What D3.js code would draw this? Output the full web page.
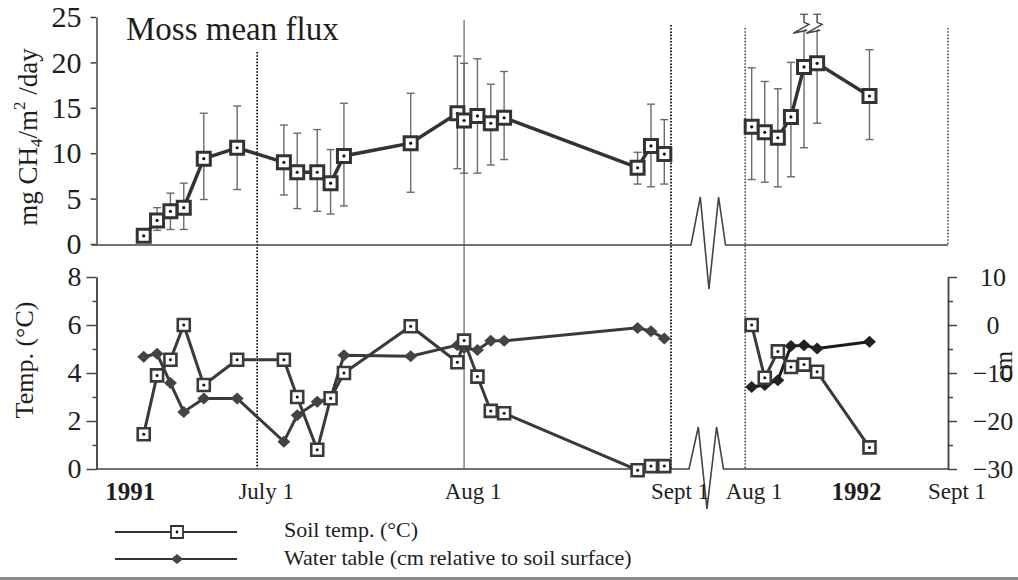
<!DOCTYPE html>
<html><head><meta charset="utf-8">
<script src="https://cdn.jsdelivr.net/npm/d3@7"></script>
<style>
body{margin:0;background:#fff;}
svg{display:block;}
text{font-family:"Liberation Serif","Times New Roman",serif;fill:#1e1e1e;}
</style></head><body>
<svg id="c" width="1018" height="580"></svg>
<script>
// ---- data ----
const sampleDates = ["1991-06-14","1991-06-16","1991-06-18","1991-06-20","1991-06-23","1991-06-28",
  "1991-07-05","1991-07-07","1991-07-10","1991-07-12","1991-07-14","1991-07-24","1991-07-31",
  "1991-08-01","1991-08-03","1991-08-05","1991-08-07","1991-08-27","1991-08-29","1991-08-31",
  "1992-08-02","1992-08-04","1992-08-06","1992-08-08","1992-08-10","1992-08-12","1992-08-20"];
const mossFlux   = [0.9,2.6,3.6,4.0,9.4,10.6,9.0,7.9,7.9,6.7,9.7,11.1,14.4,13.6,14.1,13.3,13.9,8.4,10.8,9.9,
                    12.9,12.3,11.7,14.0,19.5,19.9,16.3];
const fluxLow    = [null,1.5,1.6,1.6,4.9,6.0,5.4,3.9,3.6,3.3,4.2,5.7,8.3,7.8,7.8,8.7,9.3,6.6,6.3,6.6,
                    7.1,6.8,6.3,7.4,10.6,13.3,11.5];
const fluxHigh   = [null,4.0,5.6,6.7,14.4,15.2,13.1,12.2,12.6,10.4,15.5,16.6,20.7,19.9,20.4,17.6,19.0,10.1,15.4,13.7,
                    19.4,17.9,17.1,20.0,27,27,21.4];
const soilTemp   = [1.45,3.9,4.55,6.0,3.5,4.55,4.55,3.0,0.8,2.95,4.0,5.95,4.45,5.35,3.85,2.42,2.32,-0.05,0.12,0.12,
                    6.0,3.8,4.9,4.25,4.35,4.05,0.9];
const waterTable = [-6.6,-6.0,-12.1,-18.1,-15.3,-15.3,-24.3,-18.8,-16.0,-15.3,-6.3,-6.5,-4.2,-4.8,-5.2,-3.3,-3.3,-0.6,-1.3,-2.8,
                    -12.9,-12.5,-11.5,-4.4,-4.2,-4.9,-3.5];
const fluxTicks  = [0,5,10,15,20,25];
const tempTicks  = [0,2,4,6,8];
const tempMinor  = [1,3,5,7];
const waterTicks = [-30,-20,-10,0,10];
const waterMinor = [-25,-15,-5,5];
const monthTickDates  = ["1991-07-01","1991-08-01","1991-09-01","1992-08-01","1992-09-01"];
const monthTickLabels = ["July 1","Aug 1","Sept 1","Aug 1","Sept 1"];
const yearLabelDates  = ["1991-06-12","1992-08-18"];
const yearLabels      = ["1991","1992"];

// ---- scales ----
const parse = d3.timeParse("%Y-%m-%d");
const x91 = d3.scaleTime().domain([parse("1991-06-07"), parse("1991-09-04")]).range([97, 691]);
const x92 = d3.scaleTime().domain([parse("1992-07-29"), parse("1992-09-01")]).range([725.5, 948]);
const x = d => d.getFullYear() === 1991 ? x91(d) : x92(d);
const yFlux  = d3.scaleLinear().domain([0,25]).range([244,17]);
const yTemp  = d3.scaleLinear().domain([0,8]).range([469,277]);
const yWater = d3.scaleLinear().domain([-30,10]).range([469,277]);

const svg = d3.select("#c");
const rows = sampleDates.map((s,i)=>({date:parse(s), flux:mossFlux[i], lo:fluxLow[i], hi:fluxHigh[i],
  temp:soilTemp[i], water:waterTable[i]}));
const byYear = d3.groups(rows, d=>d.date.getFullYear());

// ---- reference vertical lines ----
const vl = svg.append("g");
function vline(xp, y0, y1, dotted, col, w){
  vl.append("line").attr("x1",xp).attr("x2",xp).attr("y1",y0).attr("y2",y1)
    .attr("stroke",col).attr("stroke-width",w)
    .attr("stroke-dasharray", dotted ? "1.6,1.6" : null);
}
vline(x91(parse("1991-07-01")), 52, yTemp(0), true, "#000", 1.7);
vline(x91(parse("1991-08-01")), 20, yTemp(0), false, "#555", 1.1);
vline(x91(parse("1991-09-01")), 25, yTemp(0), true, "#000", 1.7);
vline(x92(parse("1992-08-01")), 28, yTemp(0), true, "#222", 1.3);
vline(x92(parse("1992-09-01")), 28, yFlux(0), true, "#222", 1.3);

// ---- broken baselines ----
const bs = x91.range()[1], be = x92.range()[0];
function brokenBase(y0, xStart, up, down, shift){
  const w = be - bs;
  const pts = [[xStart,y0],[bs+shift,y0],[bs+shift+w*0.27,y0-up],[bs+shift+w*0.52,y0+down],
               [bs+shift+w*0.80,y0-up],[be+shift,y0],[x92.range()[1],y0]];
  svg.append("path").attr("d", d3.line()(pts)).attr("fill","none")
    .attr("stroke","#444").attr("stroke-width",1.6);
}
brokenBase(yFlux(0)+1, 92, 48, 44, 0);
brokenBase(yTemp(0), 96, 42, 40, -2);

// ---- axes ----
const axFlux = svg.append("g").attr("transform","translate(96.5,0)")
  .call(d3.axisLeft(yFlux).tickValues(fluxTicks).tickSize(6).tickSizeOuter(0).tickPadding(9));
const axTemp = svg.append("g").attr("transform","translate(96.5,0)")
  .call(d3.axisLeft(yTemp).tickValues(tempTicks).tickSize(10).tickSizeOuter(0).tickPadding(5));
svg.append("g").attr("transform","translate(96.5,0)")
  .call(d3.axisLeft(yTemp).tickValues(tempMinor).tickSize(4).tickSizeOuter(0).tickFormat(""));
const axWater = svg.append("g").attr("transform","translate(948,0)")
  .call(d3.axisRight(yWater).tickValues(waterTicks).tickSize(9).tickSizeOuter(0).tickPadding(36));
svg.append("g").attr("transform","translate(948,0)")
  .call(d3.axisRight(yWater).tickValues(waterMinor).tickSize(5).tickSizeOuter(0).tickFormat(""));
svg.selectAll(".domain, .tick line").attr("stroke","#444").attr("stroke-width",1.5);
svg.selectAll(".tick text").attr("fill","#1e1e1e");
axFlux.selectAll(".tick text").attr("font-size",30);
axTemp.selectAll(".tick text").attr("font-size",28);
axWater.selectAll(".tick text").attr("font-size",26).attr("text-anchor","middle");

// ---- x labels ----
monthTickDates.forEach((s,i)=>{
  svg.append("text").attr("x", x(parse(s))+9).attr("y",499).attr("text-anchor","middle")
    .attr("font-size",23).text(monthTickLabels[i]);
});
yearLabelDates.forEach((s,i)=>{
  svg.append("text").attr("x", x(parse(s))).attr("y",500).attr("text-anchor","middle")
    .attr("font-size",25).attr("font-weight","bold").text(yearLabels[i]);
});

// ---- titles / axis titles ----
svg.append("text").attr("x",126).attr("y",40).attr("font-size",33).text("Moss mean flux");
const yl = svg.append("text").attr("transform","translate(37,137) rotate(-90)")
  .attr("text-anchor","middle").attr("font-size",27);
yl.append("tspan").text("mg CH");
yl.append("tspan").attr("font-size",17).attr("dy",5).text("4");
yl.append("tspan").attr("dy",-5).text("/m");
yl.append("tspan").attr("font-size",17).attr("dy",-12).text("2");
yl.append("tspan").attr("dy",12).text(" /day");
svg.append("text").attr("transform","translate(33,360) rotate(-90)").attr("text-anchor","middle")
  .attr("font-size",26).text("Temp. (°C)");
svg.append("text").attr("transform","translate(1012,366) rotate(-90)").attr("text-anchor","middle")
  .attr("font-size",25).text("cm");

// ---- error bars ----
const eb = svg.append("g").attr("stroke","#6a6a6a").attr("stroke-width",1.4).attr("fill","none");
const yCap = yFlux(25.3);
rows.filter(d=>d.lo!==null).forEach(d=>{
  const xp = x(d.date);
  const broken = d.hi > 25;
  const yTop = broken ? yCap : yFlux(d.hi);
  eb.append("line").attr("x1",xp-4).attr("x2",xp+4).attr("y1",yFlux(d.lo)).attr("y2",yFlux(d.lo));
  eb.append("line").attr("x1",xp-4).attr("x2",xp+4).attr("y1",yTop).attr("y2",yTop);
  if(!broken){
    eb.append("line").attr("x1",xp).attr("x2",xp).attr("y1",yFlux(d.lo)).attr("y2",yTop);
  } else {
    eb.append("line").attr("x1",xp).attr("x2",xp).attr("y1",yFlux(d.lo)).attr("y2",yTop+16);
    eb.append("path").attr("stroke","#444").attr("d", d3.line()([[xp,yTop],[xp,yTop+8],[xp+5,yTop+10],
      [xp-11,yTop+19],[xp+3,yTop+16],[xp,yTop+16]]));
  }
});

// ---- series ----
const line = (yf, acc) => d3.line().x(d=>x(d.date)).y(d=>yf(acc(d)));
const squarePath = s => `M${-s/2},${-s/2}h${s}v${s}h${-s}Z`;

byYear.forEach(([yr, arr])=>{
  svg.append("path").datum(arr).attr("d", line(yWater, d=>d.water)).attr("fill","none")
    .attr("stroke", yr===1992 ? "#1a1a1a" : "#3a3a3a").attr("stroke-width",3);
  svg.append("g").selectAll("path").data(arr).join("path")
    .attr("transform", d=>`translate(${x(d.date)},${yWater(d.water)})`)
    .attr("d","M0,-6L6.5,0L0,6L-6.5,0Z").attr("fill", yr===1992 ? "#222" : "#444");
});
byYear.forEach(([yr, arr])=>{
  svg.append("path").datum(arr).attr("d", line(yTemp, d=>d.temp)).attr("fill","none")
    .attr("stroke","#3a3a3a").attr("stroke-width",3);
  const g = svg.append("g").selectAll("g").data(arr).join("g")
    .attr("transform", d=>`translate(${x(d.date)},${yTemp(d.temp)})`);
  g.append("path").attr("d",squarePath(12)).attr("fill","#fff").attr("stroke","#3a3a3a").attr("stroke-width",2.6);
  g.append("circle").attr("r",1.5).attr("fill","#111");
});
byYear.forEach(([yr, arr])=>{
  svg.append("path").datum(arr).attr("d", line(yFlux, d=>d.flux)).attr("fill","none")
    .attr("stroke","#333").attr("stroke-width",3.5);
  const g = svg.append("g").selectAll("g").data(arr).join("g")
    .attr("transform", d=>`translate(${x(d.date)},${yFlux(d.flux)})`);
  g.append("path").attr("d",squarePath(13)).attr("fill","#fff").attr("stroke","#333").attr("stroke-width",3);
  g.append("circle").attr("r",1.6).attr("fill","#111");
});

// ---- legend ----
const lg = svg.append("g");
lg.append("line").attr("x1",115).attr("x2",237).attr("y1",532).attr("y2",532).attr("stroke","#333").attr("stroke-width",1.8);
lg.append("path").attr("transform","translate(177,532)").attr("d",squarePath(12)).attr("fill","#fff").attr("stroke","#333").attr("stroke-width",1.8);
lg.append("circle").attr("cx",177).attr("cy",532).attr("r",1.4).attr("fill","#111");
lg.append("line").attr("x1",115).attr("x2",237).attr("y1",559).attr("y2",559).attr("stroke","#333").attr("stroke-width",1.8);
lg.append("path").attr("transform","translate(177,559)").attr("d","M0,-5L6,0L0,5L-6,0Z").attr("fill","#444");
lg.append("text").attr("x",284).attr("y",537).attr("font-size",22).text("Soil temp. (°C)");
lg.append("text").attr("x",284).attr("y",565).attr("font-size",22).text("Water table (cm relative to soil surface)");

// scan edge
svg.append("rect").attr("x",0).attr("y",577).attr("width",1018).attr("height",3).attr("fill","#8a8a8a");
</script>
</body></html>
